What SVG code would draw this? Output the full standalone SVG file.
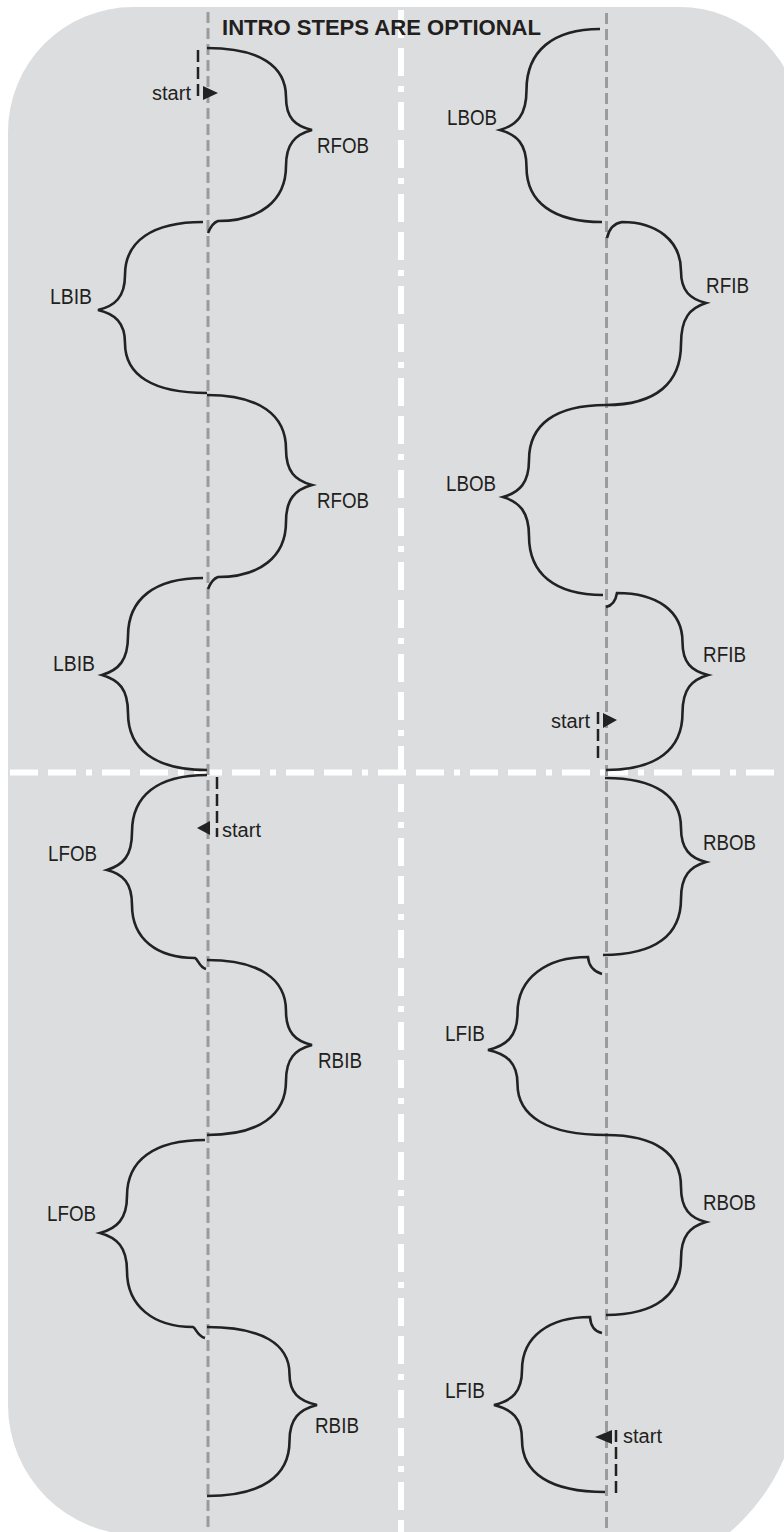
<svg xmlns="http://www.w3.org/2000/svg" width="784" height="1532" viewBox="0 0 784 1532">
<style>
.bg{fill:#dcdddf}
.wl{stroke:#ffffff;stroke-width:6;fill:none;stroke-dasharray:28 10 28 10 6 10}
.gl{stroke:#9b9b9b;stroke-width:3;fill:none;stroke-dasharray:11 5}
.br{stroke:#222222;stroke-width:2.6;fill:none;stroke-linejoin:miter;stroke-linecap:butt}
.sl{stroke:#222222;stroke-width:2.5;fill:none;stroke-dasharray:12 5}
.tri{fill:#222222}
.lb{font-family:"Liberation Sans",Arial,sans-serif;font-size:22px;fill:#231f20}
.st{font-family:"Liberation Sans",Arial,sans-serif;font-size:20px;fill:#231f20}
.ti{font-family:"Liberation Sans",Arial,sans-serif;font-size:22px;font-weight:bold;fill:#231f20}
</style>
<rect width="784" height="1532" fill="#ffffff"/>
<path class="bg" d="M8,132 A125,125 0 0 1 133,7 L680,7 A120,120 0 0 1 800,127 L800,1380 A200,200 0 0 1 600,1580 L140,1580 L140,1535 A130,130 0 0 1 8,1405 Z"/>
<g id="guides">
<line class="wl" x1="401" y1="10" x2="401" y2="1532"/>
<line class="wl" x1="10" y1="772.5" x2="784" y2="772.5"/>
<line class="gl" x1="208" y1="12" x2="208" y2="1532"/>
<line class="gl" x1="606.5" y1="13" x2="606.5" y2="1532"/>
</g>
<text id="title" class="ti" x="222" y="35" textLength="319" lengthAdjust="spacingAndGlyphs">INTRO STEPS ARE OPTIONAL</text>
<g id="connectors">
<path id="b-rfob1" class="br" d="M207,48 C259.5,48 286,66 286,97 C286,118 295,126 312,130 C295,134.5 286,144 286,166 C286,201 259.5,221 218,221 Q212,223 208,233"/>
<path id="b-lbib1" class="br" d="M203,222 C152.5,222 125,241 125,275 C125,297 115,306 98,310 C115,314 125,322.5 125,343 C125,375 152.5,393 207,393"/>
<path id="b-rfob2" class="br" d="M207,395 C259.5,395 286,415 286,449 C286,471.5 295,480.5 312,485 C295,489.6 286,499 286,522 C286,557 259.5,577 218,577 Q212,579 208,589"/>
<path id="b-lbib2" class="br" d="M203,578 C154.5,578 128,599 128,636 C128,660 119,670 102,675 C119,680 128,689 128,713 C128,749 154.5,770 207,770"/>
<path id="b-lfob1" class="br" d="M207,775 C157,775 132,796 132,832 C132,856 123,865 107,870 C123,874 132,883 132,905 C132,939 157,958 195,958 C198,959 199,967 206,969"/>
<path id="b-rbib1" class="br" d="M207,960 C259.5,960 286,979 286,1011 C286,1032 295,1041 312,1045 C295,1049.5 286,1058.5 286,1081 C286,1115 259.5,1135 207,1135"/>
<path id="b-lfob2" class="br" d="M205,1140 C153.5,1140 127,1160.5 127,1196 C127,1219 117,1228.4 100,1233 C117,1237.7 127,1247 127,1271 C127,1306 153.5,1327 193,1327 C196,1328 197,1336 205,1338"/>
<path id="b-rbib2" class="br" d="M207,1327 C262,1327 289.5,1344 289.5,1374 C289.5,1393 299,1401 317,1405 C299,1409.5 289.5,1419 289.5,1441 C289.5,1476 262,1496 207,1496"/>
<path id="b-lbob1" class="br" d="M600,29 C553,29 526.5,51 526.5,90 C526.5,115 517,125 500,130 C517,134.6 526.5,144 526.5,167 C526.5,202 553,222 602,222"/>
<path id="b-rfib1" class="br" d="M607,238 Q610,224 622,222 C656,222 681,240 681,271 C681,291 690,299 706,303 C690,308 681,318 681,344 C681,383 656,405 606,405"/>
<path id="b-lbob2" class="br" d="M606,405 C554.5,405 529,425 529,460 C529,483 519.5,492.4 503,497 C519.5,502 529,512 529,536 C529,573.5 554.5,595 603,595"/>
<path id="b-rfib2" class="br" d="M606,607 Q615,605 617,593 C657,593 682.5,611 682.5,642 C682.5,663 691.7,671 708,675 C691.7,679.75 682.5,689 682.5,713 C682.5,749 657,770 606,770"/>
<path id="b-rbob1" class="br" d="M605,778 C656,778 681,796.5 681,828 C681,849 690,858 706,862 C690,866.6 681,876 681,899 C681,934.5 656,955 603,955"/>
<path id="b-lfib1" class="br" d="M602,974 Q589,970 588,957 C547,957 517.5,977.5 517.5,1013 C517.5,1036 507,1045.4 488,1050 C507,1054 517.5,1063 517.5,1084 C517.5,1116 547,1135 606,1135"/>
<path id="b-rbob2" class="br" d="M606,1135 C656,1135 681,1154 681,1187 C681,1209 690,1218 706,1222 C690,1226.6 681,1236 681,1259 C681,1294.5 656,1315 606,1315"/>
<path id="b-lfib2" class="br" d="M602,1333 Q591,1331 590,1317 C550,1317 522,1336 522,1370 C522,1392 512,1400.6 494,1405 C512,1409.4 522,1418 522,1440 C522,1473 550,1492 605,1492"/>
</g>
<g id="start1">
<line class="sl" x1="198" y1="50" x2="198" y2="100"/>
<polygon class="tri" points="203,86 218,93 203,100"/>
<text class="st" x="191" y="100" text-anchor="end" textLength="39" lengthAdjust="spacingAndGlyphs">start</text>
</g>
<g id="start2">
<line class="sl" x1="598" y1="712" x2="598" y2="762"/>
<polygon class="tri" points="603,713 617,720 603,728"/>
<text class="st" x="590" y="728" text-anchor="end" textLength="39" lengthAdjust="spacingAndGlyphs">start</text>
</g>
<g id="start3">
<line class="sl" x1="217" y1="777" x2="217" y2="837"/>
<polygon class="tri" points="210,821 197,828 210,835"/>
<text class="st" x="222" y="837" textLength="39" lengthAdjust="spacingAndGlyphs">start</text>
</g>
<g id="start4">
<line class="sl" x1="616" y1="1430" x2="616" y2="1493"/>
<polygon class="tri" points="612,1430 595,1437 612,1444"/>
<text class="st" x="623" y="1443" textLength="39" lengthAdjust="spacingAndGlyphs">start</text>
</g>
<g id="n-rfob1"><text class="lb" x="317" y="153" textLength="52" lengthAdjust="spacingAndGlyphs">RFOB</text></g>
<g id="n-lbib1"><text class="lb" x="50" y="304" textLength="42" lengthAdjust="spacingAndGlyphs">LBIB</text></g>
<g id="n-rfob2"><text class="lb" x="317" y="508" textLength="52" lengthAdjust="spacingAndGlyphs">RFOB</text></g>
<g id="n-lbib2"><text class="lb" x="53" y="671" textLength="42" lengthAdjust="spacingAndGlyphs">LBIB</text></g>
<g id="n-lfob1"><text class="lb" x="48" y="861" textLength="49" lengthAdjust="spacingAndGlyphs">LFOB</text></g>
<g id="n-rbib1"><text class="lb" x="318" y="1068" textLength="44" lengthAdjust="spacingAndGlyphs">RBIB</text></g>
<g id="n-lfob2"><text class="lb" x="47" y="1221" textLength="49" lengthAdjust="spacingAndGlyphs">LFOB</text></g>
<g id="n-rbib2"><text class="lb" x="315" y="1433" textLength="44" lengthAdjust="spacingAndGlyphs">RBIB</text></g>
<g id="n-lbob1"><text class="lb" x="447" y="125" textLength="50" lengthAdjust="spacingAndGlyphs">LBOB</text></g>
<g id="n-rfib1"><text class="lb" x="706" y="293" textLength="43" lengthAdjust="spacingAndGlyphs">RFIB</text></g>
<g id="n-lbob2"><text class="lb" x="446" y="491" textLength="50" lengthAdjust="spacingAndGlyphs">LBOB</text></g>
<g id="n-rfib2"><text class="lb" x="703" y="662" textLength="43" lengthAdjust="spacingAndGlyphs">RFIB</text></g>
<g id="n-rbob1"><text class="lb" x="703" y="850" textLength="53" lengthAdjust="spacingAndGlyphs">RBOB</text></g>
<g id="n-lfib1"><text class="lb" x="445" y="1041" textLength="40" lengthAdjust="spacingAndGlyphs">LFIB</text></g>
<g id="n-rbob2"><text class="lb" x="703" y="1210" textLength="53" lengthAdjust="spacingAndGlyphs">RBOB</text></g>
<g id="n-lfib2"><text class="lb" x="445" y="1398" textLength="40" lengthAdjust="spacingAndGlyphs">LFIB</text></g>
</svg>
